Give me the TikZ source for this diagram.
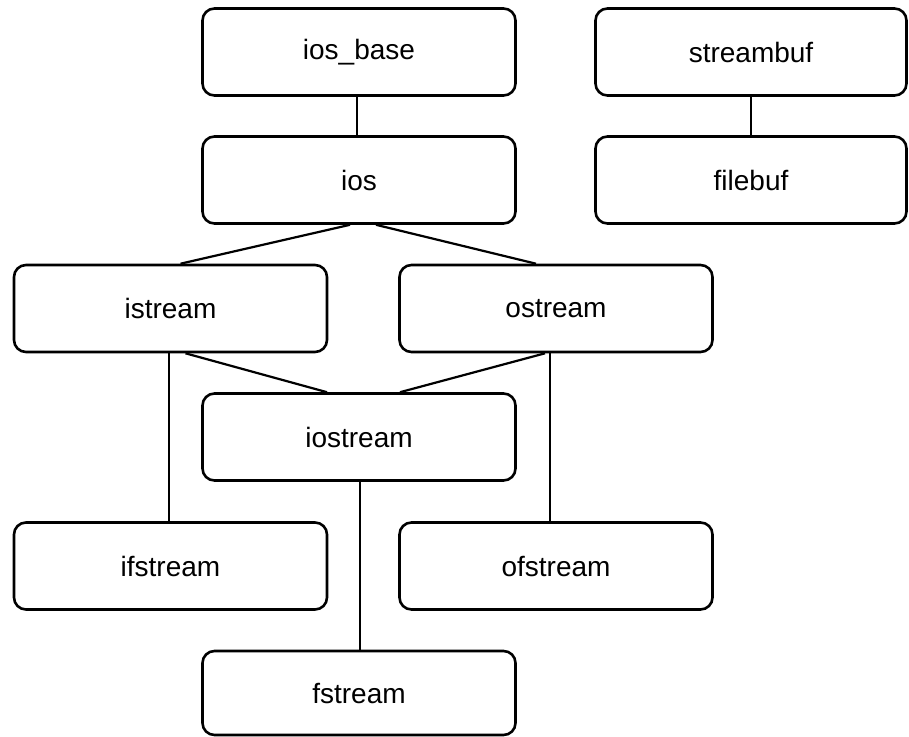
\documentclass[tikz,border=0pt]{standalone}
\usepackage{fontspec}
\setmainfont{Liberation Sans}
\usetikzlibrary{calc}
\begin{document}
\begin{tikzpicture}[x=1pt,y=-1pt,
  cls/.style={draw, line width=2.6pt, rounded corners=12pt, minimum width=313pt, minimum height=87pt, inner sep=0pt, font=\fontsize{28}{32}\selectfont},
  link/.style={line width=2.2pt}]
\useasboundingbox (0,0) rectangle (909,736);
\node[cls] (iosbase) at (359,52) {ios\_base};
\node[cls, minimum width=311pt] (streambuf) at (751,52) {streambuf};
\node[cls] (ios) at (359,180) {ios};
\node[cls, minimum width=311pt] (filebuf) at (751,180) {filebuf};
\node[cls] (istream) at (170.5,308.5) {istream};
\node[cls] (ostream) at (556,308.5) {ostream};
\node[cls] (iostream) at (359,437) {iostream};
\node[cls] (ifstream) at (170.5,566) {ifstream};
\node[cls] (ofstream) at (556,566) {ofstream};
\node[cls, minimum height=84pt] (fstream) at (359,693) {fstream};
\draw[link] ($(iosbase.south)+(-2,0)$) -- ($(ios.north)+(-2,0)$);
\draw[link] (streambuf.south) -- (filebuf.north);
\draw[link] ($(ios.south)+(-9,0)$) -- ($(istream.north)+(10,0)$);
\draw[link] ($(ios.south)+(17,0)$) -- ($(ostream.north)+(-20,0)$);
\draw[link] ($(istream.south)+(15,0)$) -- ($(iostream.north)+(-32,0)$);
\draw[link] ($(ostream.south)+(-11,0)$) -- ($(iostream.north)+(41,0)$);
\draw[link] ($(istream.south)+(-1.5,0)$) -- ($(ifstream.north)+(-1.5,0)$);
\draw[link] ($(ostream.south)+(-6,0)$) -- ($(ofstream.north)+(-6,0)$);
\draw[link] ($(iostream.south)+(1,0)$) -- ($(fstream.north)+(1,0)$);
\end{tikzpicture}
\end{document}
